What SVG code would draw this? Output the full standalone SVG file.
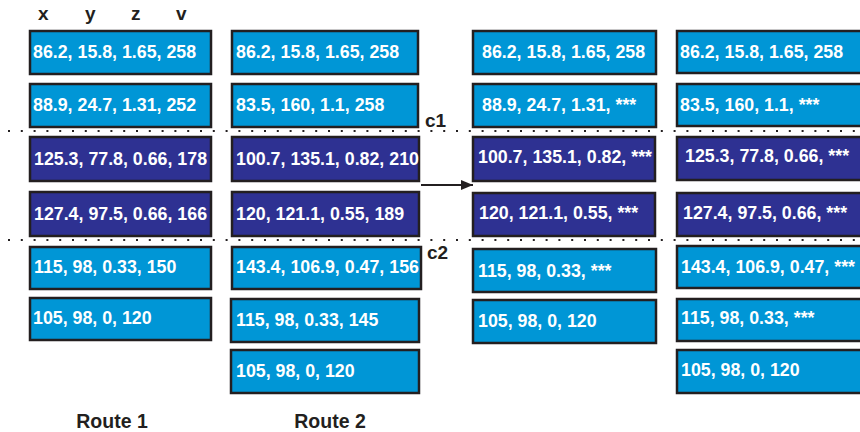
<svg xmlns="http://www.w3.org/2000/svg" width="860" height="432" viewBox="0 0 860 432">
<defs>
<style>
.lb{fill:#0096d6;stroke:#231f20;stroke-width:2.5}
.db{fill:#2e3192;stroke:#231f20;stroke-width:2.5}
.t{font-family:"Liberation Sans",Arial,sans-serif;font-weight:bold;font-size:17.8px;fill:#ffffff}
.h{font-family:"Liberation Sans",Arial,sans-serif;font-weight:bold;font-size:19px;fill:#231f20}
.r{font-family:"Liberation Sans",Arial,sans-serif;font-weight:bold;font-size:19.5px;fill:#231f20;text-anchor:middle}
.dot{stroke:#231f20;stroke-width:2;stroke-dasharray:2 10.8;fill:none}
</style>
<marker id="ah" viewBox="0 0 12 10" refX="12" refY="5" markerWidth="12" markerHeight="10" markerUnits="userSpaceOnUse" orient="auto">
<path d="M0,0 L12,5 L0,10 Z" fill="#231f20"/>
</marker>
</defs>
<rect width="860" height="432" fill="#ffffff"/>

<g id="headers">
<text class="h" x="38" y="20">x</text>
<text class="h" x="85" y="20">y</text>
<text class="h" x="131" y="20">z</text>
<text class="h" x="176" y="20">v</text>
</g>

<g id="cut-lines">
<line class="dot" x1="8" y1="131" x2="860" y2="131"/>
<line class="dot" x1="8" y1="240" x2="860" y2="240"/>
<text class="h" x="425" y="127">c1</text>
<text class="h" x="427" y="259">c2</text>
</g>

<!-- Column 1 -->
<g id="r1n1"><rect class="lb" x="30" y="31" width="181" height="43"/><text class="t" x="33" y="58">86.2, 15.8, 1.65, 258</text></g>
<g id="r1n2"><rect class="lb" x="30" y="84" width="181" height="43"/><text class="t" x="33" y="111">88.9, 24.7, 1.31, 252</text></g>
<g id="r1n3"><rect class="db" x="30" y="137" width="181" height="44"/><text class="t" x="34" y="165">125.3, 77.8, 0.66, 178</text></g>
<g id="r1n4"><rect class="db" x="30" y="192" width="181" height="44"/><text class="t" x="34" y="220">127.4, 97.5, 0.66, 166</text></g>
<g id="r1n5"><rect class="lb" x="30" y="247" width="181" height="42"/><text class="t" x="34" y="273">115, 98, 0.33, 150</text></g>
<g id="r1n6"><rect class="lb" x="30" y="298" width="181" height="42"/><text class="t" x="33" y="324">105, 98, 0, 120</text></g>

<!-- Column 2 -->
<g id="r2n1"><rect class="lb" x="232" y="31" width="186" height="43"/><text class="t" x="236" y="58">86.2, 15.8, 1.65, 258</text></g>
<g id="r2n2"><rect class="lb" x="232" y="84" width="186" height="43"/><text class="t" x="236" y="111">83.5, 160, 1.1, 258</text></g>
<g id="r2n3"><rect class="db" x="232" y="137" width="187" height="44"/><text class="t" x="236" y="165">100.7, 135.1, 0.82, 210</text></g>
<g id="r2n4"><rect class="db" x="232" y="192" width="187" height="44"/><text class="t" x="236" y="220">120, 121.1, 0.55, 189</text></g>
<g id="r2n5"><rect class="lb" x="232" y="247" width="189" height="42"/><text class="t" x="236" y="273">143.4, 106.9, 0.47, 156</text></g>
<g id="r2n6"><rect class="lb" x="231" y="299" width="188" height="43"/><text class="t" x="236" y="326">115, 98, 0.33, 145</text></g>
<g id="r2n7"><rect class="lb" x="231" y="350" width="188" height="43"/><text class="t" x="236" y="377">105, 98, 0, 120</text></g>

<!-- Column 3 -->
<g id="r3n1"><rect class="lb" x="473" y="31" width="183" height="43"/><text class="t" x="482" y="58">86.2, 15.8, 1.65, 258</text></g>
<g id="r3n2"><rect class="lb" x="473" y="84" width="183" height="43"/><text class="t" x="482" y="111">88.9, 24.7, 1.31, ***</text></g>
<g id="r3n3"><rect class="db" x="473" y="137" width="182" height="44"/><text class="t" x="478" y="163">100.7, 135.1, 0.82, ***</text></g>
<g id="r3n4"><rect class="db" x="473" y="193" width="182" height="43"/><text class="t" x="479" y="219">120, 121.1, 0.55, ***</text></g>
<g id="r3n5"><rect class="lb" x="473" y="249" width="183" height="43"/><text class="t" x="478" y="277">115, 98, 0.33, ***</text></g>
<g id="r3n6"><rect class="lb" x="473" y="300" width="183" height="43"/><text class="t" x="478" y="327">105, 98, 0, 120</text></g>

<!-- Column 4 -->
<g id="r4n1"><rect class="lb" x="677" y="31" width="190" height="42"/><text class="t" x="680" y="58">86.2, 15.8, 1.65, 258</text></g>
<g id="r4n2"><rect class="lb" x="677" y="84" width="190" height="42"/><text class="t" x="680" y="111">83.5, 160, 1.1, ***</text></g>
<g id="r4n3"><rect class="db" x="677" y="137" width="190" height="43"/><text class="t" x="685" y="162">125.3, 77.8, 0.66, ***</text></g>
<g id="r4n4"><rect class="db" x="677" y="193" width="190" height="43"/><text class="t" x="683" y="219">127.4, 97.5, 0.66, ***</text></g>
<g id="r4n5"><rect class="lb" x="677" y="246" width="190" height="42"/><text class="t" x="681" y="273">143.4, 106.9, 0.47, ***</text></g>
<g id="r4n6"><rect class="lb" x="677" y="299" width="190" height="42"/><text class="t" x="681" y="324">115, 98, 0.33, ***</text></g>
<g id="r4n7"><rect class="lb" x="677" y="350" width="190" height="43"/><text class="t" x="681" y="376">105, 98, 0, 120</text></g>

<g id="connectors">
<line x1="421" y1="185" x2="473" y2="185" stroke="#231f20" stroke-width="2" marker-end="url(#ah)"/>
</g>

<g id="labels">
<text class="r" x="112" y="428">Route 1</text>
<text class="r" x="330" y="428">Route 2</text>
</g>
</svg>
